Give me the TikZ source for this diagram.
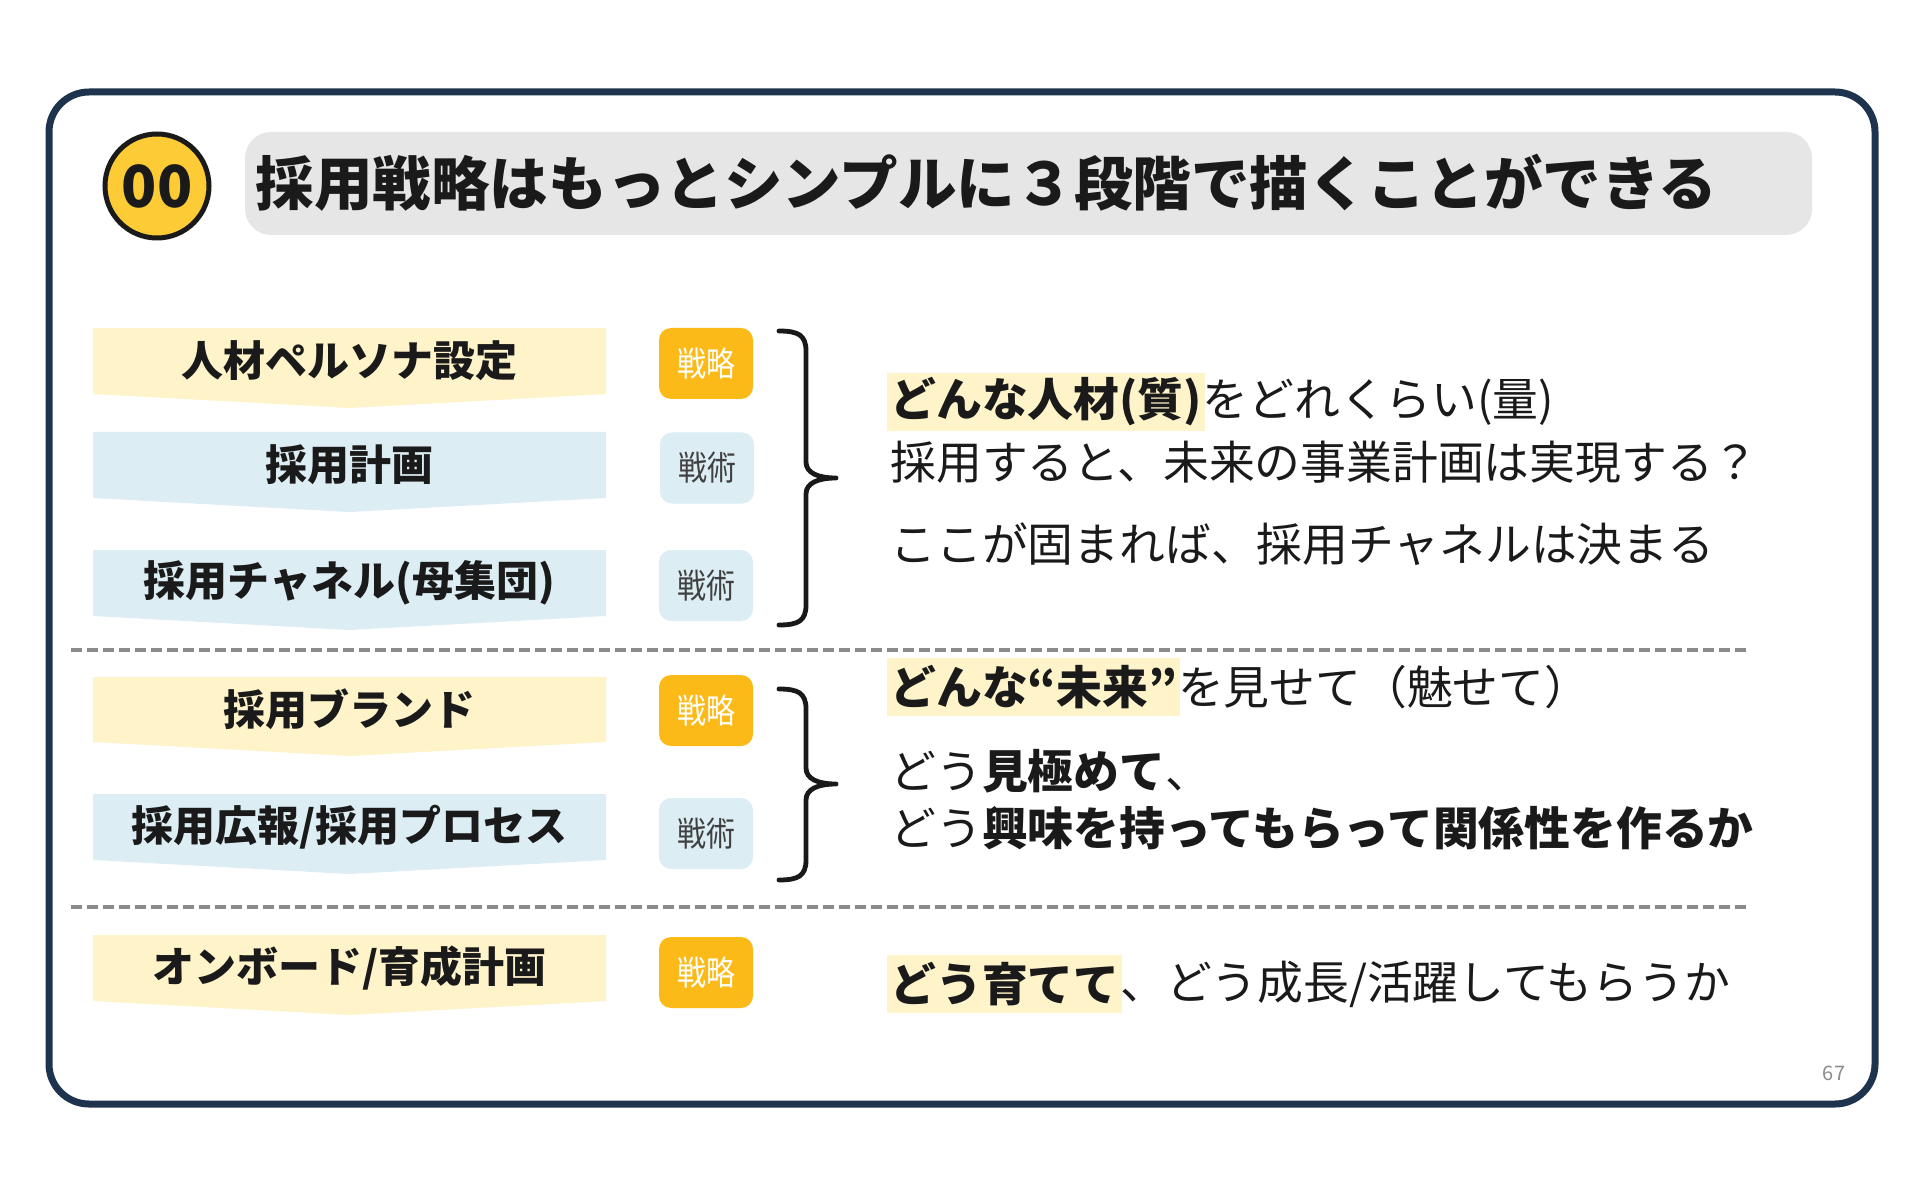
\documentclass[tikz,border=0pt]{standalone}
\usepackage{fontspec}
\setmainfont{Noto Sans CJK JP}
\definecolor{framec}{HTML}{1E344E}
\definecolor{ylw}{HTML}{FFF3C9}
\definecolor{blu}{HTML}{DCEDF4}
\definecolor{org}{HTML}{FBBA17}
\definecolor{titlebg}{HTML}{E6E6E6}
\definecolor{circ}{HTML}{FCCB35}
\definecolor{dashc}{HTML}{8A8A8A}
\definecolor{txt}{HTML}{1A1A1A}
\newcommand\bannershape[4]{%
  \fill[#1] (93,#2) -- (606,#2) -- (606,#3) -- (349.5,{#3+14}) -- (93,#3) -- cycle;
  \node[bannertext] (#4) at (349.5,{(#2+#3)/2}) }
\newcommand\bracepath[3]{%
  \draw[bracec] (779,#1) .. controls (798,#1) and (806,{#1+4}) .. (806,{#1+20})
    -- (806,{#2-16}) .. controls (806,{#2-5}) and (818,#2) .. (836,#2)
    .. controls (818,#2) and (806,{#2+5}) .. (806,{#2+16})
    -- (806,{#3-20}) .. controls (806,{#3-4}) and (798,#3) .. (779,#3);}
\tikzset{
  bannertext/.style={inner sep=0, text=txt, font=\bfseries\fontsize{21}{25}\selectfont},
  tagbox/.style={minimum width=47pt, minimum height=35.5pt, rounded corners=6pt, inner sep=0,
     font=\fontsize{17}{20}\selectfont},
  strat/.style={tagbox, fill=org, text=white},
  tact/.style={tagbox, fill=blu, text=black!75},
  rt/.style={anchor=west, inner sep=0, text=txt, font=\fontsize{22.9}{27}\selectfont},
  hl/.style={rt, fill=ylw, inner xsep=1.5pt, minimum height=29pt},
  dashline/.style={draw=dashc, line width=1.7pt, dash pattern=on 5.5pt off 2.5pt},
  bracec/.style={draw=black!90, line width=2.4pt, line cap=round, line join=round},
}
\begin{document}
\begin{tikzpicture}[x=0.5pt,y=-0.5pt]
\useasboundingbox[fill=white] (0,0) rectangle (1920,1197);
% outer frame
\draw[framec, line width=3.5pt, fill=white, rounded corners=20pt] (49,92) rectangle (1875,1104);
% title
\fill[titlebg, rounded corners=13pt] (245,132) rectangle (1812,235);
\node[circle, draw=txt, line width=2.5pt, fill=circ, minimum size=52pt, inner sep=0,
  font=\bfseries\fontsize{29}{32}\selectfont, text=txt] (num) at (157,186) {00};
\node[anchor=west, inner sep=0, text=txt, font=\bfseries\fontsize{29.3}{35}\selectfont] (title) at (255,183)
  {採用戦略はもっとシンプルに３段階で描くことができる};
% banners
\bannershape{ylw}{328}{394}{b1}{人材ペルソナ設定};
\bannershape{blu}{432}{498}{b2}{採用計画};
\bannershape{blu}{550}{616}{b3}{採用チャネル(母集団)};
\bannershape{ylw}{677}{742}{b4}{採用ブランド};
\bannershape{blu}{794}{860}{b5}{採用広報/採用プロセス};
\bannershape{ylw}{935}{1001}{b6}{オンボード/育成計画};
% tags
\node[strat] (t1) at (706,363.5) {\scalebox{0.85}[1]{戦略}};
\node[tact]  (t2) at (707,468) {\scalebox{0.85}[1]{戦術}};
\node[tact]  (t3) at (706,585.5) {\scalebox{0.85}[1]{戦術}};
\node[strat] (t4) at (706,710.5) {\scalebox{0.85}[1]{戦略}};
\node[tact]  (t5) at (706,833.5) {\scalebox{0.85}[1]{戦術}};
\node[strat] (t6) at (706,972.5) {\scalebox{0.85}[1]{戦略}};
% braces
\bracepath{331}{478}{625}
\bracepath{689}{784}{880}
% dashed separators
\coordinate (d1a) at (71,650); \coordinate (d1b) at (1749,650);
\coordinate (d2a) at (71,907); \coordinate (d2b) at (1749,907);
\draw[dashline] (d1a) -- (d1b);
\draw[dashline] (d2a) -- (d2b);
% right texts
\node[hl] (r1a) at (887,402) {\bfseries どんな人材(質)};
\node[rt] (r1b) at ([xshift=-1.5pt]r1a.east) {をどれくらい(量)};
\node[rt] (r2) at (890,462) {採用すると、未来の事業計画は実現する？};
\node[rt] (r3) at (890,544) {ここが固まれば、採用チャネルは決まる};
\node[hl] (r4a) at (887,687) {\bfseries どんな“未来”};
\node[rt] (r4b) at ([xshift=-1.5pt]r4a.east) {を見せて（魅せて）};
\node[rt] (r5) at (890,771) {どう\textbf{見極めて}、};
\node[rt] (r6) at (890,828) {どう\textbf{興味を持ってもらって関係性を作るか}};
\node[hl] (r7a) at (887,984) {\bfseries どう育てて};
\node[rt] (r7b) at ([xshift=-1.5pt]r7a.east) {、どう成長/活躍してもらうか};
% page number
\node[inner sep=0, text=black!45, font=\fontsize{10}{12}\selectfont] (pg) at (1834,1073) {67};
\end{tikzpicture}
\end{document}
